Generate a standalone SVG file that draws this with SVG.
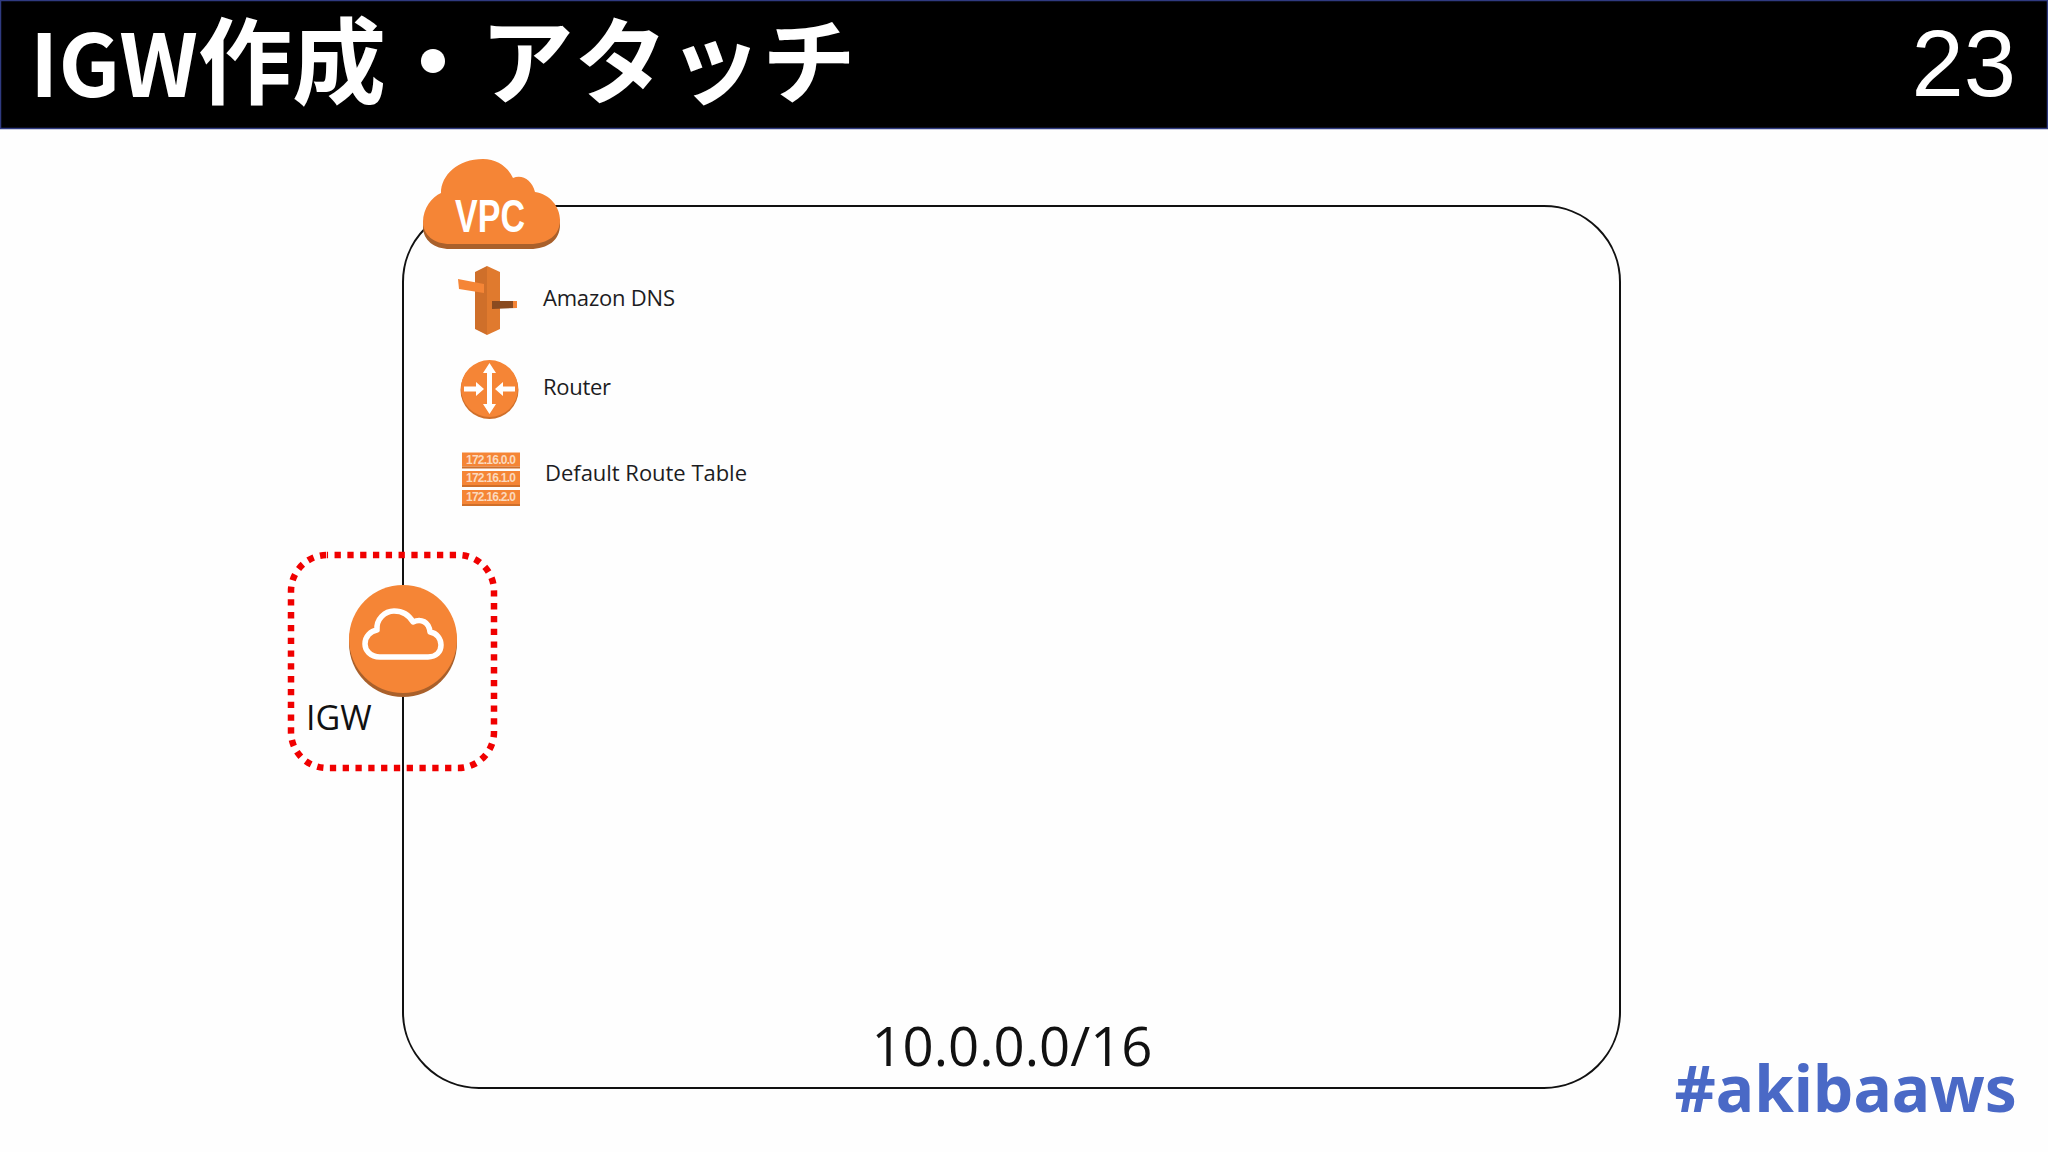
<svg xmlns="http://www.w3.org/2000/svg" width="2048" height="1152" viewBox="0 0 2048 1152">
<style>
.o{fill:#f58536}.d{fill:#a9602b}.m{fill:#cf6f2a}
.t{font-family:"Open Sans","Noto Sans CJK JP",sans-serif;fill:#1c1c22}
.h{font-family:"Noto Sans CJK JP","Noto Sans",sans-serif;font-weight:700;fill:#fff}
.r{font-family:"Liberation Sans",sans-serif;font-size:12px;font-weight:700;fill:#fbd9bd;text-anchor:middle}
</style>
<defs><path id="cl" d="M423 222C423 208 432 197 441 193C441 175 458 159 483 159C497 159 508 167 513 178C522 174 532 180 535 192C550 194 560 207 560 220C560 235 548 244 530 244L450 244C434 244 423 235 423 222Z"/></defs>
<rect width="2048" height="1152" fill="#fefefe"/>
<g id="header">
<rect x="0.5" y="0.5" width="2047" height="128" fill="#000" stroke="#2f3a80" stroke-width="1.500"/>
<text class="h" x="30" y="97" font-size="86">IGW<tspan font-size="94">作成・アタッチ</tspan></text>
<text x="2016" y="96" text-anchor="end" font-family="Liberation Sans,sans-serif" font-size="94" fill="#fff">23</text>
</g>
<g id="vpc-box"><rect x="403" y="206" width="1217" height="882" rx="76" fill="none" stroke="#111" stroke-width="2"/></g>
<g id="vpc">
<use href="#cl" class="d" y="5"/>
<use href="#cl" class="o"/>
<text x="490" y="232" text-anchor="middle" font-family="Liberation Sans,sans-serif" font-weight="700" font-size="46" fill="#fff" transform="translate(490 0) scale(.74 1) translate(-490 0)">VPC</text>
</g>
<g id="dns">
<polygon class="m" points="475,272 487,266 487,335 475,329"/>
<polygon points="487,266 500,272 500,329 487,335" fill="#e07a2e"/>
<polygon class="o" points="458,279 484,284 484,293 459,289"/>
<polygon points="492,301 517,301 517,308 492,309" fill="#8a4b20"/>
<polygon class="o" points="513,301 517,301 517,308 513,308"/>
</g>
<text class="t" x="543" y="306" font-size="22" textLength="132">Amazon DNS</text>
<g id="router">
<circle class="m" cx="489.500" cy="390" r="29"/><circle class="o" cx="489.500" cy="388.500" r="28.500"/>
<path d="M489.500 363L496 373H492V404H496L489.500 414L483 404H487V373H483ZM464 386.500H476V382L484 389L476 396V391.500H464ZM515 386.500H503V382L495 389L503 396V391.500H515Z" fill="#fff"/>
</g>
<text class="t" x="543" y="395" font-size="22" textLength="68">Router</text>
<g id="route-table">
<rect class="o" x="462" y="452.500" width="58" height="14"/><rect class="m" x="462" y="466.500" width="58" height="2"/>
<rect class="o" x="462" y="471" width="58" height="14"/><rect class="m" x="462" y="485" width="58" height="2"/>
<rect class="o" x="462" y="490" width="58" height="14"/><rect class="m" x="462" y="504" width="58" height="2"/>
<text class="r" x="491" y="463.500" textLength="50">172.16.0.0</text><text class="r" x="491" y="482" textLength="50">172.16.1.0</text><text class="r" x="491" y="501" textLength="50">172.16.2.0</text>
</g>
<text class="t" x="545" y="481" font-size="22" textLength="202">Default Route Table</text>
<g id="igw">
<rect x="291" y="555" width="203" height="213" rx="36" fill="none" stroke="#f00000" stroke-width="6.500" stroke-dasharray="6.300 6.500" stroke-dashoffset="5.250"/>
<circle class="d" cx="403" cy="643" r="54"/><circle class="o" cx="403" cy="639" r="54"/>
<path d="M380 657C370 657 365 650 365 644C365 636 371 631 377 630C376 619 385 611 394 611C402 611 409 615 413 622C421 618 429 622 430 632C437 633 441 639 441 645C441 652 436 657 428 657Z" fill="none" stroke="#fff" stroke-width="5.500" stroke-linejoin="round"/>
<text x="306" y="730" font-family="Open Sans,sans-serif" font-size="34" fill="#111">IGW</text>
</g>
<text x="1012" y="1066" text-anchor="middle" font-family="Open Sans,sans-serif" font-size="54.500" fill="#111">10.0.0.0/16</text>
<text x="2017" y="1112" text-anchor="end" font-family="Noto Sans,sans-serif" font-weight="700" font-size="64" fill="#4a69c6">#akibaaws</text>
</svg>
